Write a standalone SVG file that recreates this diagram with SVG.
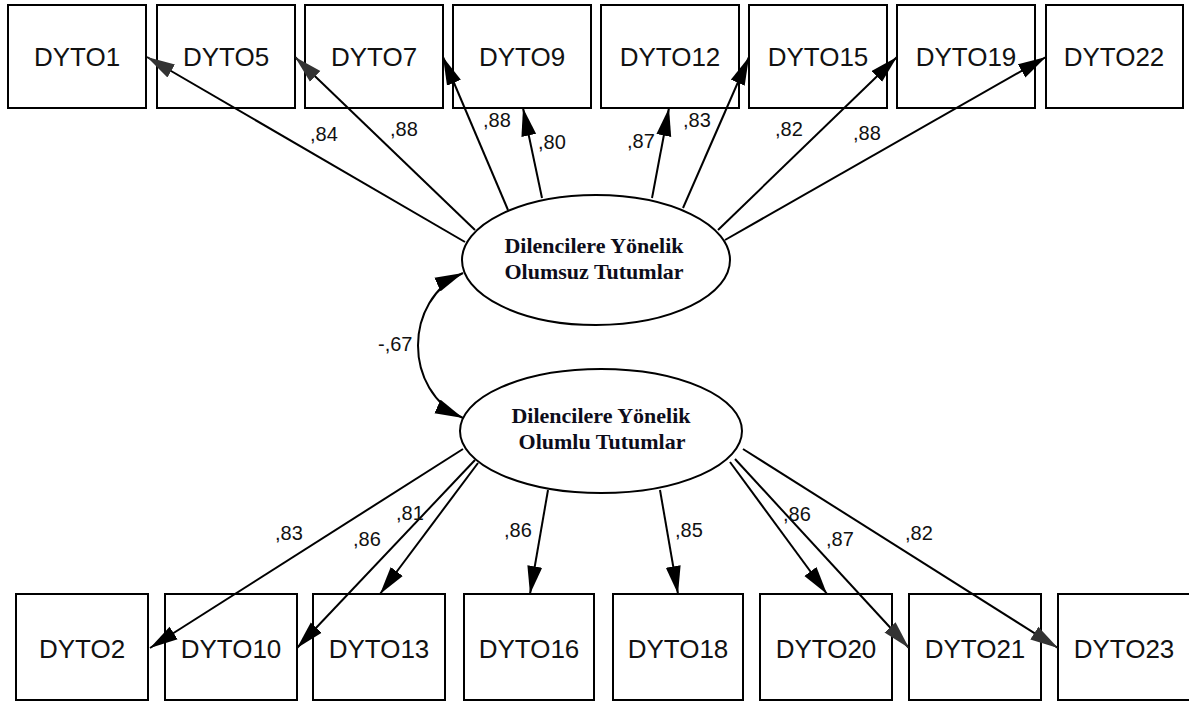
<svg xmlns="http://www.w3.org/2000/svg" width="1189" height="702" viewBox="0 0 1189 702">
<style>
.box{fill:#fff;stroke:#000;stroke-width:2}
.bt{font-family:"Liberation Sans",Arial,sans-serif;font-size:26px;fill:#111;text-anchor:middle}
.ell{fill:#fff;stroke:#000;stroke-width:2}
.et{font-family:"Liberation Serif","Times New Roman",serif;font-weight:bold;font-size:22px;fill:#0d0d1a;text-anchor:middle}
.ln{fill:none;stroke:#000;stroke-width:2}
.g{marker-end:url(#ahg)}
.k{marker-end:url(#ah)}
.lab{font-family:"Liberation Sans",Arial,sans-serif;font-size:20px;fill:#111}
</style>
<defs>
<marker id="ah" markerUnits="userSpaceOnUse" markerWidth="28" markerHeight="16" refX="28" refY="8" orient="auto-start-reverse" viewBox="0 0 28 16"><path d="M0,0.5 L28,8 L0,15.5 z" fill="#000"/></marker>
<marker id="ahg" markerUnits="userSpaceOnUse" markerWidth="28" markerHeight="16" refX="28" refY="8" orient="auto" viewBox="0 0 28 16"><path d="M0,0.5 L28,8 L0,15.5 z" fill="#333"/></marker>
</defs>
<rect width="1189" height="702" fill="#fff"/>
<g id="DYTO1"><rect class="box" x="8" y="5" width="138" height="103"/><text class="bt" x="77" y="66">DYTO1</text></g>
<g id="DYTO5"><rect class="box" x="157" y="5" width="138" height="103"/><text class="bt" x="226" y="66">DYTO5</text></g>
<g id="DYTO7"><rect class="box" x="305" y="5" width="138" height="103"/><text class="bt" x="374" y="66">DYTO7</text></g>
<g id="DYTO9"><rect class="box" x="453" y="5" width="138" height="103"/><text class="bt" x="522" y="66">DYTO9</text></g>
<g id="DYTO12"><rect class="box" x="601" y="5" width="138" height="103"/><text class="bt" x="670" y="66">DYTO12</text></g>
<g id="DYTO15"><rect class="box" x="749" y="5" width="138" height="103"/><text class="bt" x="818" y="66">DYTO15</text></g>
<g id="DYTO19"><rect class="box" x="897" y="5" width="138" height="103"/><text class="bt" x="966" y="66">DYTO19</text></g>
<g id="DYTO22"><rect class="box" x="1046" y="5" width="137" height="103"/><text class="bt" x="1114" y="66">DYTO22</text></g>
<g id="DYTO2"><rect class="box" x="16" y="594" width="132" height="106"/><text class="bt" x="82" y="658">DYTO2</text></g>
<g id="DYTO10"><rect class="box" x="165" y="594" width="132" height="106"/><text class="bt" x="231" y="658">DYTO10</text></g>
<g id="DYTO13"><rect class="box" x="313" y="594" width="132" height="106"/><text class="bt" x="379" y="658">DYTO13</text></g>
<g id="DYTO16"><rect class="box" x="464" y="594" width="130" height="106"/><text class="bt" x="529" y="658">DYTO16</text></g>
<g id="DYTO18"><rect class="box" x="613" y="594" width="130" height="106"/><text class="bt" x="678" y="658">DYTO18</text></g>
<g id="DYTO20"><rect class="box" x="760" y="594" width="132" height="106"/><text class="bt" x="826" y="658">DYTO20</text></g>
<g id="DYTO21"><rect class="box" x="909" y="594" width="132" height="106"/><text class="bt" x="975" y="658">DYTO21</text></g>
<g id="DYTO23"><rect class="box" x="1058" y="594" width="132" height="106"/><text class="bt" x="1124" y="658">DYTO23</text></g>
<g id="F1"><ellipse class="ell" cx="596" cy="260" rx="134" ry="65"/><text class="et" x="594" y="253">Dilencilere Yönelik</text><text class="et" x="594" y="279">Olumsuz Tutumlar</text></g>
<g id="F2"><ellipse class="ell" cx="601" cy="431" rx="141" ry="62"/><text class="et" x="601" y="423">Dilencilere Yönelik</text><text class="et" x="602" y="449">Olumlu Tutumlar</text></g>
<g id="connectors">
<line class="ln g" x1="465" y1="242" x2="147" y2="57"/>
<line class="ln g" x1="475" y1="230" x2="295" y2="57"/>
<line class="ln k" x1="508" y1="210" x2="443" y2="57"/>
<line class="ln k" x1="542" y1="198" x2="523" y2="108"/>
<line class="ln k" x1="652" y1="198" x2="669" y2="108"/>
<line class="ln k" x1="683" y1="208" x2="749" y2="57"/>
<line class="ln k" x1="718" y1="230" x2="897" y2="57"/>
<line class="ln k" x1="725" y1="240" x2="1046" y2="57"/>
<line class="ln k" x1="463" y1="449" x2="150" y2="648"/>
<line class="ln k" x1="475" y1="460" x2="297" y2="648"/>
<line class="ln k" x1="478" y1="463" x2="380" y2="594"/>
<line class="ln k" x1="548" y1="490" x2="530" y2="594"/>
<line class="ln k" x1="660" y1="490" x2="678" y2="594"/>
<line class="ln k" x1="730" y1="462" x2="827" y2="594"/>
<line class="ln g" x1="735" y1="459" x2="909" y2="648"/>
<line class="ln g" x1="743" y1="449" x2="1058" y2="648"/>
<path class="ln" d="M463,273 C403,300 403,391 463,418" marker-start="url(#ah)" marker-end="url(#ah)"/>
</g>
<g id="labels">
<text class="lab" x="310" y="141">,84</text>
<text class="lab" x="390" y="136">,88</text>
<text class="lab" x="483" y="127">,88</text>
<text class="lab" x="538" y="149">,80</text>
<text class="lab" x="627" y="148">,87</text>
<text class="lab" x="683" y="127">,83</text>
<text class="lab" x="775" y="136">,82</text>
<text class="lab" x="853" y="140">,88</text>
<text class="lab" x="378" y="351">-,67</text>
<text class="lab" x="275" y="540">,83</text>
<text class="lab" x="353" y="546">,86</text>
<text class="lab" x="396" y="520">,81</text>
<text class="lab" x="504" y="537">,86</text>
<text class="lab" x="675" y="537">,85</text>
<text class="lab" x="783" y="521">,86</text>
<text class="lab" x="826" y="546">,87</text>
<text class="lab" x="905" y="540">,82</text>
</g>
</svg>
